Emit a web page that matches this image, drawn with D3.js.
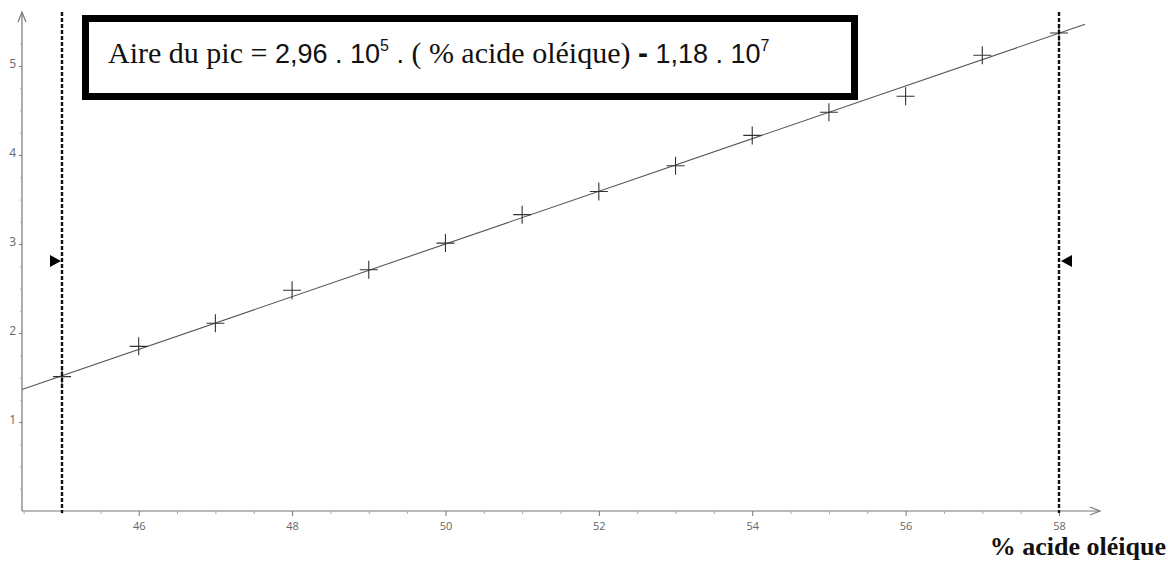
<!DOCTYPE html>
<html>
<head>
<meta charset="utf-8">
<script src="https://cdn.jsdelivr.net/npm/d3@7"></script>
<style>
  html, body { margin: 0; padding: 0; background: #fff; }
  svg { display: block; }
</style>
</head>
<body>
<div id="chart"></div>
<script>
// données (aire en unités de 10^7)
const pctOleique = [45, 46, 47, 48, 49, 50, 51, 52, 53, 54, 55, 56, 57, 58];
const airePic = [1.51, 1.85, 2.11, 2.48, 2.71, 3.01, 3.33, 3.59, 3.88, 4.22, 4.48, 4.66, 5.12, 5.37];
const xTickLabels = [46, 48, 50, 52, 54, 56, 58];
const yTickLabels = [1, 2, 3, 4, 5];
const bornes = [45, 58];           // lignes verticales pointillées
const pente = 0.296, ordonnee = -11.8;  // droite de régression (10^7)

const width = 1168, height = 562;
const svg = d3.select("#chart").append("svg")
    .attr("width", width)
    .attr("height", height);

// échelles
const x = d3.scaleLinear().domain([45, 58]).range([62, 1059]);
const y = d3.scaleLinear().domain([0, 5]).range([511, 66]);
const xMin = x.invert(22), xMax = x.invert(1100);
const yMax = y.invert(12);

const gris = "#777";

// axe X
svg.append("line")
    .attr("x1", x(xMin)).attr("x2", x(xMax))
    .attr("y1", y(0)).attr("y2", y(0))
    .attr("stroke", gris).attr("stroke-width", 1.2);
svg.append("path")
    .attr("d", `M${x(xMax) - 10},${y(0) - 4}L${x(xMax)},${y(0)}L${x(xMax) - 10},${y(0) + 4}`)
    .attr("fill", "none").attr("stroke", gris).attr("stroke-width", 1.2);

const minorX = d3.range(44.5, 58.5, 0.5).filter(v => !xTickLabels.includes(v));
const axX = svg.append("g").attr("transform", `translate(0,${y(0)})`);
axX.append("g").call(d3.axisBottom(x).tickValues(minorX).tickSize(3).tickFormat(""))
    .call(g => g.select(".domain").remove())
    .selectAll("line").attr("stroke", "#aaa");
axX.append("g").call(d3.axisBottom(x).tickValues(xTickLabels).tickSize(5).tickPadding(6))
    .call(g => g.select(".domain").remove())
    .call(g => g.selectAll("line").attr("stroke", gris))
    .call(g => g.selectAll("text")
        .attr("fill", "#666")
        .attr("font-family", "'Open Sans', sans-serif")
        .attr("font-size", 11));

// axe Y
svg.append("line")
    .attr("x1", 22).attr("x2", 22)
    .attr("y1", y(0)).attr("y2", y(yMax))
    .attr("stroke", gris).attr("stroke-width", 1.2);
svg.append("path")
    .attr("d", `M18,${y(yMax) + 10}L22,${y(yMax)}L26,${y(yMax) + 10}`)
    .attr("fill", "none").attr("stroke", gris).attr("stroke-width", 1.2);

const minorY = d3.range(0.25, 5.5, 0.25).filter(v => !yTickLabels.includes(v));
const axY = svg.append("g").attr("transform", "translate(22,0)");
axY.append("g").call(d3.axisLeft(y).tickValues(minorY).tickSize(2).tickFormat(""))
    .call(g => g.select(".domain").remove())
    .selectAll("line").attr("stroke", "#aaa");
axY.append("g").call(d3.axisLeft(y).tickValues(yTickLabels).tickSize(3).tickPadding(3).tickFormat(d3.format("d")))
    .call(g => g.select(".domain").remove())
    .call(g => g.selectAll("line").attr("stroke", gris))
    .call(g => g.selectAll("text")
        .attr("fill", "#666")
        .attr("dy", "0.1em")
        .attr("font-family", "'Open Sans', sans-serif")
        .attr("font-size", 12));

// droite de régression
svg.append("line")
    .attr("x1", x(xMin)).attr("y1", y(pente * xMin + ordonnee))
    .attr("x2", x(58.34)).attr("y2", y(pente * 58.34 + ordonnee))
    .attr("stroke", "#555").attr("stroke-width", 1.1);

// points (croix)
const s = 9;
svg.append("g").selectAll("path")
    .data(pctOleique.map((v, i) => [v, airePic[i]]))
    .join("path")
    .attr("d", d => `M${x(d[0]) - s},${y(d[1])}H${x(d[0]) + s}M${x(d[0])},${y(d[1]) - s}V${y(d[1]) + s}`)
    .attr("stroke", "#333").attr("stroke-width", 1.1).attr("fill", "none");

// lignes verticales pointillées + curseurs
bornes.forEach((b, i) => {
    svg.append("line")
        .attr("x1", x(b)).attr("x2", x(b))
        .attr("y1", 12).attr("y2", y(0) + 2)
        .attr("stroke", "#111").attr("stroke-width", 2.4)
        .attr("stroke-dasharray", "4,2");
    const cy = 261, cx = x(b);
    const d = i === 0
        ? `M${cx - 12},${cy - 6}L${cx - 1},${cy}L${cx - 12},${cy + 6}Z`
        : `M${cx + 13},${cy - 6}L${cx + 2},${cy}L${cx + 13},${cy + 6}Z`;
    svg.append("path").attr("d", d).attr("fill", "#000");
});

// encadré de l'équation
svg.append("rect")
    .attr("x", 85.5).attr("y", 18.5)
    .attr("width", 769).attr("height", 78)
    .attr("fill", "#fff").attr("stroke", "#000").attr("stroke-width", 7);

const eq = svg.append("text")
    .attr("x", 108).attr("y", 63)
    .attr("font-size", 30)
    .attr("fill", "#111");
const serif = "'Liberation Serif', serif";
const sans = "'Liberation Sans', sans-serif";
eq.append("tspan").attr("font-family", serif).text("Aire du pic = ");
eq.append("tspan").attr("font-family", sans).attr("font-size", 27).text("2,96 . 10");
eq.append("tspan").attr("font-family", sans).attr("font-size", 16).attr("dy", -12).text("5");
eq.append("tspan").attr("font-family", sans).attr("font-size", 27).attr("dy", 12).text(" . ");
eq.append("tspan").attr("font-family", serif).text("( % acide oléique) ");
eq.append("tspan").attr("font-family", sans).attr("font-weight", "bold").text("-");
eq.append("tspan").attr("font-family", sans).attr("font-size", 27).text(" 1,18 . 10");
eq.append("tspan").attr("font-family", sans).attr("font-size", 16).attr("dy", -12).text("7");

// titre de l'axe X
svg.append("text")
    .attr("x", 1166).attr("y", 555)
    .attr("text-anchor", "end")
    .attr("font-family", serif)
    .attr("font-weight", "bold")
    .attr("font-size", 26)
    .attr("fill", "#111")
    .text("% acide oléique");
</script>
</body>
</html>
